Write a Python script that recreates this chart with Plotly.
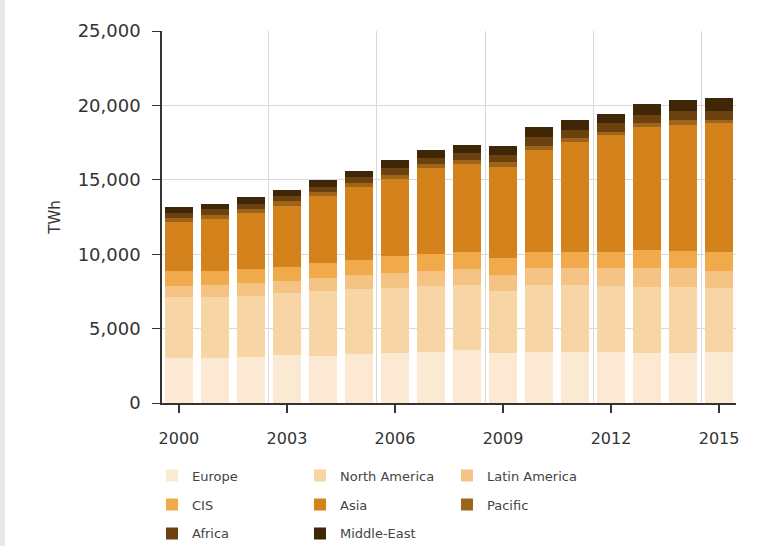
import plotly.graph_objects as go

# Electricity consumption by region, TWh
years = list(range(2000, 2016))
europe = [3050, 3050, 3120, 3210, 3190, 3300, 3340, 3450, 3570, 3340, 3450, 3450, 3450, 3340, 3340, 3450]
north_america = [4080, 4060, 4100, 4170, 4370, 4370, 4420, 4420, 4370, 4220, 4490, 4490, 4380, 4450, 4450, 4270]
latin_america = [740, 830, 830, 850, 830, 940, 1010, 1030, 1060, 1050, 1120, 1120, 1230, 1270, 1270, 1180]
cis = [1030, 960, 970, 940, 1030, 1010, 1080, 1130, 1160, 1130, 1100, 1100, 1100, 1200, 1170, 1240]
asia = [3270, 3460, 3740, 4040, 4480, 4880, 5200, 5760, 5890, 6120, 6870, 7390, 7830, 8290, 8480, 8680]
pacific = [280, 290, 300, 340, 250, 260, 290, 290, 260, 310, 240, 260, 250, 270, 290, 220]
africa = [320, 360, 330, 330, 370, 400, 450, 390, 490, 520, 600, 560, 580, 560, 600, 610]
middle_east = [380, 380, 430, 450, 440, 440, 510, 560, 560, 560, 660, 670, 630, 720, 790, 850]

# (name, values, colour, legend column)
series = [
    ("Europe", europe, "#fce9d4", "legend"),
    ("North America", north_america, "#f8d5a5", "legend2"),
    ("Latin America", latin_america, "#f5c485", "legend3"),
    ("CIS", cis, "#f1aa4b", "legend"),
    ("Asia", asia, "#d3821c", "legend2"),
    ("Pacific", pacific, "#9e6419", "legend3"),
    ("Africa", africa, "#6b410f", "legend"),
    ("Middle-East", middle_east, "#3e2607", "legend2"),
]

year_ticks = [2000, 2003, 2006, 2009, 2012, 2015]
grid_years = [2002.5, 2005.5, 2008.5, 2011.5, 2014.5]
y_ticks = [0, 5000, 10000, 15000, 20000, 25000]

fig = go.Figure()
for name, vals, color, leg in series:
    fig.add_trace(go.Bar(
        x=years, y=vals, name=name, legend=leg, legendgroup=name,
        marker=dict(color=color, line=dict(width=0)),
    ))

# invisible trace carrying the secondary x axis used for the vertical grid
fig.add_trace(go.Scatter(x=[years[0]], y=[0], xaxis="x2", mode="markers",
                         marker=dict(opacity=0), showlegend=False, hoverinfo="skip"))

font_family = "DejaVu Sans, Verdana, sans-serif"
x_range = [1999.53, 2015.47]

legend_style = dict(
    orientation="v", y=-0.155, xanchor="left", yanchor="top",
    traceorder="grouped", tracegroupgap=9,
    font=dict(size=13, color="#444444"), itemwidth=30,
    bgcolor="rgba(0,0,0,0)",
)

fig.update_layout(
    width=761, height=546,
    barmode="stack", bargap=0.24,
    paper_bgcolor="white", plot_bgcolor="white",
    margin=dict(l=162, r=25, t=31, b=143, autoexpand=False),
    font=dict(family=font_family, color="#333333"),
    xaxis=dict(
        range=x_range, tickvals=year_ticks, ticktext=[str(y) for y in year_ticks],
        showgrid=False, showline=True, linecolor="#333333", linewidth=1.5,
        ticks="outside", ticklen=8, tickcolor="#333333", tickwidth=1.5,
        tickfont=dict(size=16, color="#333333"), ticklabelstandoff=12,
        zeroline=False,
    ),
    xaxis2=dict(
        range=x_range, overlaying="x", tickvals=grid_years + [x_range[1]],
        showgrid=True, gridcolor="#d9d9d9", gridwidth=1,
        showticklabels=False, ticks="", showline=False, zeroline=False,
    ),
    yaxis=dict(
        range=[0, 25000], tickvals=y_ticks, tickformat=",d",
        showgrid=True, gridcolor="#d9d9d9", gridwidth=1,
        showline=True, linecolor="#333333", linewidth=1.5,
        ticks="outside", ticklen=8, tickcolor="#333333",
        tickfont=dict(size=18, color="#333333"), ticklabelstandoff=8,
        zeroline=False,
        title=dict(text="TWh", font=dict(size=15, color="#333333"), standoff=13),
    ),
    legend=dict(x=-0.0174, **legend_style),
    legend2=dict(x=0.2404, **legend_style),
    legend3=dict(x=0.4965, **legend_style),
    shapes=[
        dict(type="rect", xref="paper", yref="paper", layer="below",
             x0=-0.2822, x1=-0.2735, y0=-0.385, y1=1.085,
             fillcolor="#e8e8e8", line=dict(width=0)),
    ],
)

fig.write_html("out.html")
